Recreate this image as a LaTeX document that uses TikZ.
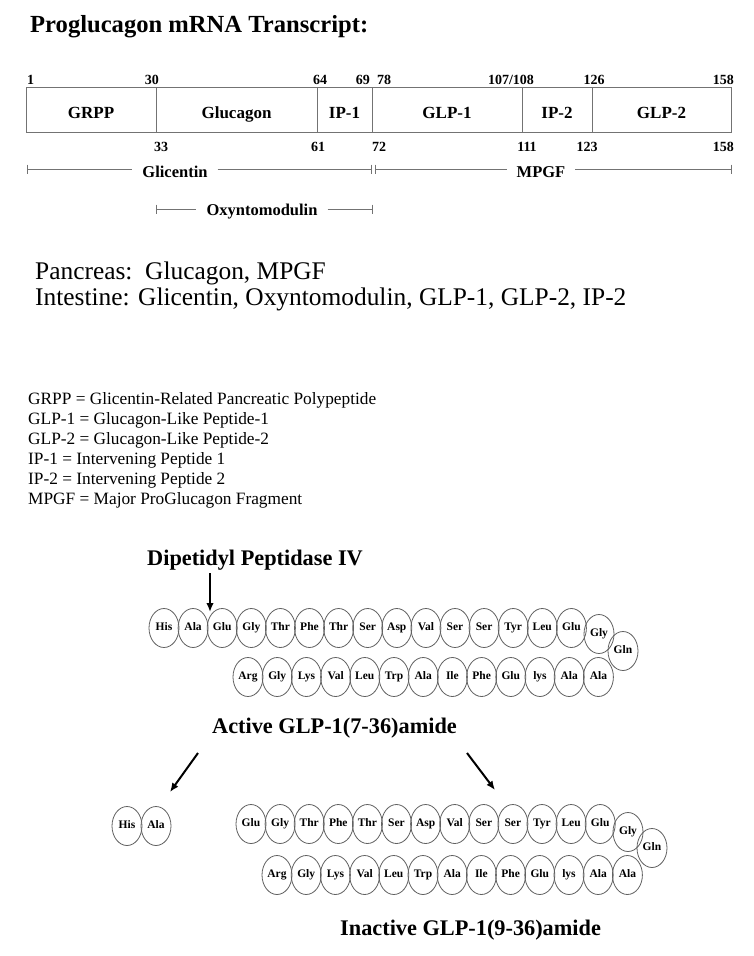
\documentclass[tikz,border=0pt]{standalone}
\usepackage{fontspec}
\setmainfont{Liberation Serif}
\usetikzlibrary{arrows.meta,shapes.geometric}
\begin{document}
\begin{tikzpicture}[x=1pt,y=-1pt,
  ln/.style={draw=black!55,line width=0.9pt},
  segbox/.style={rectangle,draw=black!55,line width=0.9pt,minimum height=45pt,inner sep=0pt},
  seglbl/.style={font=\fontsize{17}{20}\selectfont\bfseries,inner sep=0pt,anchor=base},
  res/.style={ellipse,draw=black!62,line width=0.8pt,minimum width=30pt,minimum height=39pt,inner sep=0pt,text height=8pt,text depth=2.5pt,font=\fontsize{11.5}{12}\selectfont\bfseries},
  num/.style={font=\fontsize{14}{16}\selectfont\bfseries,inner sep=0pt},
  spanlbl/.style={font=\fontsize{16.5}{20}\selectfont\bfseries,anchor=base,inner xsep=10pt,inner ysep=0pt},
  big/.style={font=\fontsize{22.3}{26}\selectfont\bfseries,anchor=base west,inner sep=0pt},
  plain/.style={font=\fontsize{25.4}{30}\selectfont,anchor=base west,inner sep=0pt},
  legend/.style={font=\fontsize{17.3}{20}\selectfont,anchor=base west,inner sep=0pt},
  arr/.style={line width=2pt,-{Latex[length=9pt,width=7.5pt]}},
  ]
\useasboundingbox[fill=white] (0,0) rectangle (754,956);

% title
\node[font=\fontsize{24.6}{30}\selectfont\bfseries,anchor=base west,inner sep=0pt] (title) at (30,32) {Proglucagon mRNA Transcript:};

% transcript boxes
\node[segbox,minimum width=130pt] (grpp) at (91,109.5) {};
\node[segbox,minimum width=161pt] (gcg)  at (236.5,109.5) {};
\node[segbox,minimum width=55pt]  (ip1)  at (344.5,109.5) {};
\node[segbox,minimum width=150pt] (glp1) at (447,109.5) {};
\node[segbox,minimum width=70pt]  (ip2)  at (557,109.5) {};
\node[segbox,minimum width=139pt] (glp2) at (661.5,109.5) {};
\node[seglbl] (lgrpp) at (91,118.5) {GRPP};
\node[seglbl] (lgcg)  at (236.5,118.5) {Glucagon};
\node[seglbl] (lip1)  at (344.5,118.5) {IP-1};
\node[seglbl] (lglp1) at (447,118.5) {GLP-1};
\node[seglbl] (lip2)  at (557,118.5) {IP-2};
\node[seglbl] (lglp2) at (661.5,118.5) {GLP-2};

% numbers above
\node[num,anchor=base west] (n1)   at (27,84) {1};
\node[num,anchor=base east] (n30)  at (159,84) {30};
\node[num,anchor=base west] (n64)  at (313,84) {64};
\node[num,anchor=base east] (n69)  at (370,84) {69};
\node[num,anchor=base west] (n78)  at (377,84) {78};
\node[num,anchor=base]      (n107) at (511,84) {107/108};
\node[num,anchor=base]      (n126) at (594,84) {126};
\node[num,anchor=base east] (n158a) at (734,84) {158};
% numbers below
\node[num,anchor=base west] (n33)  at (154,151) {33};
\node[num,anchor=base west] (n61)  at (311,151) {61};
\node[num,anchor=base west] (n72)  at (372,151) {72};
\node[num,anchor=base]      (n111) at (527,151) {111};
\node[num,anchor=base]      (n123) at (587,151) {123};
\node[num,anchor=base east] (n158b) at (734,151) {158};

% spans
\coordinate (gA) at (27,169);  \coordinate (gB) at (371,169);
\coordinate (mA) at (375,169); \coordinate (mB) at (731,169);
\coordinate (oA) at (156,209); \coordinate (oB) at (372,209);
\node[spanlbl] (glic) at (175,177) {Glicentin};
\node[spanlbl] (mpgf) at (541,177) {MPGF};
\node[spanlbl] (oxm)  at (262,215.5) {Oxyntomodulin};
\draw[ln] (gA) -- (glic.west |- gA);
\draw[ln] (glic.east |- gB) -- (gB);
\draw[ln] (mA) -- (mpgf.west |- mA);
\draw[ln] (mpgf.east |- mB) -- (mB);
\draw[ln] (oA) -- (oxm.west |- oA);
\draw[ln] (oxm.east |- oB) -- (oB);
\foreach \c in {gA,gB,mA,mB,oA,oB}
  \draw[ln] ([yshift=4.5pt]\c) -- ([yshift=-4.5pt]\c);

% tissue text
\node[plain] (panc) at (35,279) {Pancreas:\ \ Glucagon, MPGF};
\node[plain] (intes) at (35,305) {Intestine: Glicentin, Oxyntomodulin, GLP-1, GLP-2, IP-2};

% legend
\node[legend] (lg1) at (28,404) {GRPP = Glicentin-Related Pancreatic Polypeptide};
\node[legend] (lg2) at (28,424) {GLP-1 = Glucagon-Like Peptide-1};
\node[legend] (lg3) at (28,444) {GLP-2 = Glucagon-Like Peptide-2};
\node[legend] (lg4) at (28,464) {IP-1 = Intervening Peptide 1};
\node[legend] (lg5) at (28,484) {IP-2 = Intervening Peptide 2};
\node[legend] (lg6) at (28,504) {MPGF = Major ProGlucagon Fragment};

% DPP-IV
\node[big] (dpp) at (147,565) {Dipetidyl Peptidase IV};
\coordinate (dtop) at (210,573);
\coordinate (cut) at (210,612);
\draw[arr] (dtop) -- (cut);

% active chain
\foreach \r [count=\i] in {His,Ala,Glu,Gly,Thr,Phe,Thr,Ser,Asp,Val,Ser,Ser,Tyr,Leu,Glu}
  \node[res] (a\i) at ({164+(\i-1)*29.1},628) {\r};
\node[res] (a16) at (599,634) {Gly};
\node[res] (a17) at (623,651) {Gln};
\foreach \r [count=\i] in {Arg,Gly,Lys,Val,Leu,Trp,Ala,Ile,Phe,Glu,lys,Ala,Ala}
  \node[res] (b\i) at ({248+(\i-1)*29.2},677) {\r};

\node[big] (active) at (212,733) {Active GLP-1(7-36)amide};

% split arrows
\coordinate (lA) at (198,753); \coordinate (lB) at (170,792);
\coordinate (rA) at (467,753); \coordinate (rB) at (495,790);
\draw[arr] (lA) -- (lB);
\draw[arr] (rA) -- (rB);

% cleaved dipeptide
\node[res] (h1) at (127,826) {His};
\node[res] (h2) at (156,826) {Ala};

% inactive chain
\foreach \r [count=\i] in {Glu,Gly,Thr,Phe,Thr,Ser,Asp,Val,Ser,Ser,Tyr,Leu,Glu}
  \node[res] (c\i) at ({251+(\i-1)*29.1},824) {\r};
\node[res] (c14) at (628,832) {Gly};
\node[res] (c15) at (652,848) {Gln};
\foreach \r [count=\i] in {Arg,Gly,Lys,Val,Leu,Trp,Ala,Ile,Phe,Glu,lys,Ala,Ala}
  \node[res] (d\i) at ({277+(\i-1)*29.2},875) {\r};

\node[big] (inactive) at (340,935) {Inactive GLP-1(9-36)amide};
\end{tikzpicture}
\end{document}
